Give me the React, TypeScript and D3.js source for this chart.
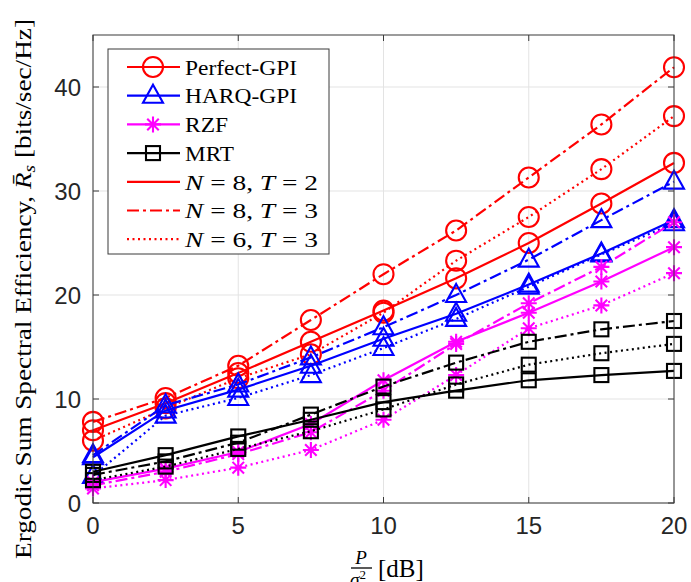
import React from "react";
import * as d3 from "d3";

// x axis: P/sigma^2 in dB
const snr = [0, 2.5, 5, 7.5, 10, 12.5, 15, 17.5, 20];

// Perfect-GPI
const perfectN8T2 = [7.0, 9.6, 12.5, 15.5, 18.5, 21.6, 25.0, 28.8, 32.7];
const perfectN8T3 = [7.8, 10.1, 13.2, 17.6, 22.0, 26.2, 31.3, 36.4, 41.9];
const perfectN6T3 = [6.0, 9.1, 12.0, 14.3, 18.3, 23.3, 27.5, 32.1, 37.2];
// HARQ-GPI
const harqN8T2 = [4.4, 8.9, 10.9, 13.2, 15.8, 18.2, 21.0, 24.0, 27.2];
const harqN8T3 = [4.6, 9.4, 11.4, 14.0, 16.9, 20.0, 23.4, 27.2, 30.9];
const harqN6T3 = [2.6, 8.4, 10.1, 12.3, 14.9, 17.7, 20.8, 23.9, 26.9];
// RZF
const rzfN8T2 = [2.0, 3.3, 4.9, 7.6, 11.8, 15.5, 18.3, 21.3, 24.6];
const rzfN8T3 = [1.7, 3.0, 4.7, 6.8, 10.8, 15.3, 19.2, 22.7, 27.0];
const rzfN6T3 = [1.4, 2.2, 3.4, 5.1, 8.0, 12.3, 16.8, 19.0, 22.1];
// MRT
const mrtN8T2 = [3.0, 4.6, 6.4, 8.0, 9.7, 10.8, 11.8, 12.3, 12.7];
const mrtN8T3 = [2.7, 4.0, 5.8, 8.5, 11.2, 13.5, 15.5, 16.7, 17.5];
const mrtN6T3 = [2.2, 3.5, 5.2, 6.9, 9.0, 11.4, 13.3, 14.4, 15.3];

const xTicks = [0, 5, 10, 15, 20];
const yTicks = [0, 10, 20, 30, 40];

const schemes = ["Perfect-GPI", "HARQ-GPI", "RZF", "MRT"];
const schemeColors = ["#ff0000", "#0000ff", "#ff00ff", "#000000"];
const schemeMarkers = ["circle", "triangle", "star", "square"];
const configs = ["solid", "dashdot", "dotted"];
const configLabels = [["8", "2"], ["8", "3"], ["6", "3"]];

const seriesValues = [
  [perfectN8T2, perfectN8T3, perfectN6T3],
  [harqN8T2, harqN8T3, harqN6T3],
  [rzfN8T2, rzfN8T3, rzfN6T3],
  [mrtN8T2, mrtN8T3, mrtN6T3],
];

const dashOf: Record<string, string | undefined> = {
  solid: undefined,
  dashdot: "12 4 3 4",
  dotted: "2 3.5",
};

const W = 691;
const H = 582;
const M = { left: 93, right: 674, top: 35, bottom: 503 };
const axisColor = "#3a3a3a";
const sans = "'Liberation Sans', Arial, Helvetica, sans-serif";
const serif = "'Liberation Serif', 'Times New Roman', serif";

function Marker({ kind, x, y, color }: { kind: string; x: number; y: number; color: string }) {
  const sw = 2.1;
  if (kind === "circle") return <circle cx={x} cy={y} r={10} fill="none" stroke={color} strokeWidth={sw} />;
  if (kind === "square") return <rect x={x - 7} y={y - 7} width={14} height={14} fill="none" stroke={color} strokeWidth={sw} />;
  if (kind === "triangle") {
    const p = `M${x},${y - 11}L${x + 10},${y + 7}L${x - 10},${y + 7}Z`;
    return <path d={p} fill="none" stroke={color} strokeWidth={sw} />;
  }
  const r = 8;
  const d = r * 0.72;
  return (
    <path
      d={`M${x},${y - r}V${y + r}M${x - r},${y}H${x + r}M${x - d},${y - d}L${x + d},${y + d}M${x - d},${y + d}L${x + d},${y - d}`}
      stroke={color}
      strokeWidth={sw}
      fill="none"
    />
  );
}

export default function App() {
  const x = d3.scaleLinear().domain([0, 20]).range([M.left, M.right]);
  const y = d3.scaleLinear().domain([0, 45]).range([M.bottom, M.top]);
  const line = d3
    .line<number>()
    .x((_, i) => x(snr[i]))
    .y((d) => y(d));

  const legX = 108;
  const legY = 49;
  const legW = 221;
  const legH = 205;
  const rowY = (i: number) => 67 + i * 28.7;
  const schemeWidths = [112, 112, 43, 49];

  return (
    <svg width={W} height={H} style={{ position: "absolute", left: 0, top: 0, background: "#fff" }}>
      <rect x={0} y={0} width={W} height={H} fill="#fff" />
      {/* grid */}
      {xTicks.map((t) => (
        <line key={"gx" + t} x1={x(t)} x2={x(t)} y1={M.top} y2={M.bottom} stroke="#e3e3e3" strokeWidth={1} />
      ))}
      {yTicks.map((t) => (
        <line key={"gy" + t} x1={M.left} x2={M.right} y1={y(t)} y2={y(t)} stroke="#e3e3e3" strokeWidth={1} />
      ))}

      {/* series */}
      {seriesValues.map((group, si) =>
        group.map((vals, ci) => (
          <g key={`s${si}-${ci}`}>
            <path
              d={line(vals) || ""}
              fill="none"
              stroke={schemeColors[si]}
              strokeWidth={2.2}
              strokeDasharray={dashOf[configs[ci]]}
            />
            {vals.map((v, i) => (
              <Marker key={i} kind={schemeMarkers[si]} x={x(snr[i])} y={y(v)} color={schemeColors[si]} />
            ))}
          </g>
        ))
      )}

      {/* axes box and ticks */}
      <rect
        x={M.left}
        y={M.top}
        width={M.right - M.left}
        height={M.bottom - M.top}
        fill="none"
        stroke={axisColor}
        strokeWidth={1}
      />
      {xTicks.map((t) => (
        <g key={"tx" + t}>
          <line x1={x(t)} x2={x(t)} y1={M.bottom} y2={M.bottom - 6} stroke={axisColor} />
          <line x1={x(t)} x2={x(t)} y1={M.top} y2={M.top + 6} stroke={axisColor} />
          <text x={x(t)} y={534} textAnchor="middle" fontFamily={sans} fontSize={24} fill="#262626">
            {t}
          </text>
        </g>
      ))}
      {yTicks.map((t) => (
        <g key={"ty" + t}>
          <line x1={M.left} x2={M.left + 6} y1={y(t)} y2={y(t)} stroke={axisColor} />
          <line x1={M.right} x2={M.right - 6} y1={y(t)} y2={y(t)} stroke={axisColor} />
          <text x={81} y={y(t) + 8.5} textAnchor="end" fontFamily={sans} fontSize={24} fill="#262626">
            {t}
          </text>
        </g>
      ))}

      {/* y label */}
      <text
        transform="translate(31,289) rotate(-90)"
        textAnchor="middle"
        fontFamily={serif}
        fontSize={24}
        fill="#000"
        textLength={540}
        lengthAdjust="spacingAndGlyphs"
      >
        Ergodic Sum Spectral Efficiency,{" "}
        <tspan fontStyle="italic">R̄</tspan>
        <tspan fontStyle="italic" fontSize={17} dy={4}>s</tspan>
        <tspan dy={-4}> [bits/sec/Hz]</tspan>
      </text>

      {/* x label */}
      <text x={361} y={564} textAnchor="middle" fontFamily={serif} fontStyle="italic" fontSize={19}>
        P
      </text>
      <line x1={351} x2={372} y1={568} y2={568} stroke="#000" strokeWidth={1.3} />
      <text x={358} y={586} textAnchor="middle" fontFamily={serif} fontStyle="italic" fontSize={19}>
        σ<tspan fontSize={13} dy={-7} fontStyle="normal">2</tspan>
      </text>
      <text x={378} y={577} fontFamily={serif} fontSize={25}>
        [dB]
      </text>

      {/* legend */}
      <rect x={legX} y={legY} width={legW} height={legH} fill="#fff" stroke={axisColor} strokeWidth={1} />
      {schemes.map((name, i) => (
        <g key={name}>
          <line x1={127} x2={180} y1={rowY(i)} y2={rowY(i)} stroke={schemeColors[i]} strokeWidth={2.2} />
          <Marker kind={schemeMarkers[i]} x={153} y={rowY(i)} color={schemeColors[i]} />
          <text
            x={185}
            y={rowY(i)}
            dy="0.35em"
            fontFamily={serif}
            fontSize={22}
            textLength={schemeWidths[i]}
            lengthAdjust="spacingAndGlyphs"
          >
            {name}
          </text>
        </g>
      ))}
      {configs.map((c, i) => (
        <g key={c}>
          <line
            x1={127}
            x2={180}
            y1={rowY(i + 4)}
            y2={rowY(i + 4)}
            stroke="#ff0000"
            strokeWidth={2.2}
            strokeDasharray={dashOf[c]}
          />
          <text
            x={185}
            y={rowY(i + 4)}
            dy="0.35em"
            fontFamily={serif}
            fontSize={22}
            textLength={133}
            lengthAdjust="spacingAndGlyphs"
          >
            <tspan fontStyle="italic">N</tspan>
            {" = " + configLabels[i][0] + ", "}
            <tspan fontStyle="italic">T</tspan>
            {" = " + configLabels[i][1]}
          </text>
        </g>
      ))}
    </svg>
  );
}
